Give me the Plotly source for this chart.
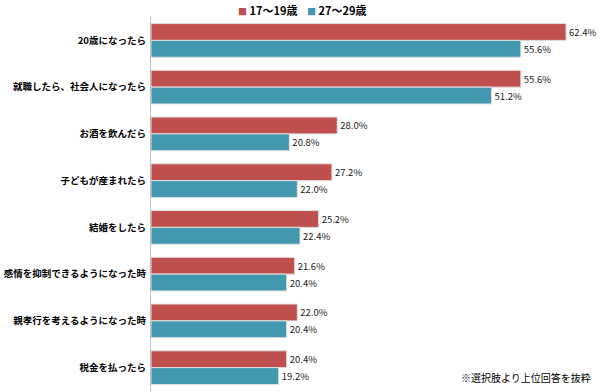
import plotly.graph_objects as go

categories = ["20歳になったら", "就職したら、社会人になったら", "お酒を飲んだら", "子どもが産まれたら",
              "結婚をしたら", "感情を抑制できるようになった時", "親孝行を考えるようになった時", "税金を払ったら"]
age_17_19 = [62.4, 55.6, 28.0, 27.2, 25.2, 21.6, 22.0, 20.4]
age_27_29 = [55.6, 51.2, 20.8, 22.0, 22.4, 20.4, 20.4, 19.2]
series_names = ["17～19歳", "27～29歳"]
colors = ["#C0504D", "#4198AF"]
note = "※選択肢より上位回答を抜粋"

font_family = "Noto Sans CJK JP, Noto Sans, sans-serif"

fig = go.Figure()
for name, vals, color in zip(series_names, [age_17_19, age_27_29], colors):
    fig.add_trace(go.Bar(
        y=categories, x=vals, orientation="h", name=name, showlegend=False,
        marker=dict(color=color, line=dict(color="#E0E0E0", width=1)),
        text=[f"{v:.1f}%" for v in vals], textposition="outside",
        textfont=dict(size=9.5, color="#222222", family=font_family),
        cliponaxis=False,
    ))

legend_ann = []
for i, (name, color) in enumerate(zip(series_names, colors)):
    legend_ann.append(dict(
        text=f"<span style='color:{color};font-size:9px'>■</span> <b>{name}</b>",
        xref="paper", yref="paper", x=(85 + 69 * i) / 449, y=1.0, xanchor="left", yanchor="bottom",
        yshift=-3, showarrow=False, font=dict(size=11, family=font_family, color="#000000")))

fig.update_layout(
    width=600, height=392,
    margin=dict(l=151, r=0, t=17, b=1),
    barmode="group", bargap=0.28, bargroupgap=0.0,
    plot_bgcolor="white", paper_bgcolor="white",
    font=dict(family=font_family, color="#000000"),
    showlegend=False,
    xaxis=dict(range=[0, 67.5], visible=False, showgrid=False),
    yaxis=dict(autorange="reversed", showline=True, linecolor="#BFBFBF", linewidth=1,
               ticks="", tickfont=dict(size=9.5, family=font_family, weight="bold"),
               ticksuffix=" "),
    annotations=legend_ann + [dict(text=note, xref="paper", yref="paper", x=0.985, y=0.035,
                      xanchor="right", yanchor="middle", showarrow=False,
                      font=dict(size=10, family=font_family))],
)

fig.write_html("out.html", config={"displayModeBar": False},
               post_script="document.body.style.margin='0';document.body.style.overflow='hidden';")
